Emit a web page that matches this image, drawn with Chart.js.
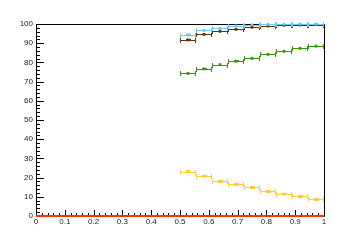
<!DOCTYPE html>
<html>
<head>
<meta charset="utf-8">
<script src="https://cdn.jsdelivr.net/npm/chart.js@4/dist/chart.umd.min.js"></script>
<style>
html, body { margin: 0; padding: 0; background: #fff; }
</style>
</head>
<body>
<canvas id="myChart" width="360" height="240"></canvas>
<script>
'use strict'

// bin edges of the histograms (0.5 .. 1.0, 9 bins)
let binEdges = [0.5, 0.5556, 0.6111, 0.6667, 0.7222, 0.7778, 0.8333, 0.8889, 0.9444, 1.0]

let yellowVals = [23.1, 20.8, 18.2, 16.5, 14.9, 12.8, 11.3, 10.2, 8.7]
let yellowErrs = [0.9, 0.6, 0.8, 0.9, 0.8, 0.8, 0.5, 0.7, 0.8]
let greenVals = [74.3, 76.6, 78.8, 80.6, 82.1, 84.2, 85.8, 87.3, 88.5]
let greenErrs = [0.4, 0.4, 0.4, 0.4, 0.3, 0.3, 0.3, 0.3, 0.3]
let brownVals = [91.7, 94.6, 96.2, 97.2, 98.3, 99.0, 99.3, 99.5, 99.7]
let brownErrs = [0.3, 0.3, 0.2, 0.2, 0.2, 0.1, 0.1, 0.1, 0.1]
let blueVals = [94.3, 96.7, 97.7, 99.0, 99.6, 99.8, 99.9, 100, 100]
let blueErrs = [0.3, 0.3, 0.2, 0.2, 0.1, 0.1, 0.1, 0.1, 0.1]
let redX = [0, 1]
let redVals = [0, 0]

let xTicks = [0, 0.1, 0.2, 0.3, 0.4, 0.5, 0.6, 0.7, 0.8, 0.9, 1]
let yTicks = [0, 10, 20, 30, 40, 50, 60, 70, 80, 90, 100]

let series = [
    { vals: yellowVals, errs: yellowErrs, color: '#ffcc33' },
    { vals: greenVals, errs: greenErrs, color: '#339900' },
    { vals: brownVals, errs: brownErrs, color: '#663300' },
    { vals: blueVals, errs: blueErrs, color: '#66ccff' }
]

function crisp(v) {
    return Math.round(v) + 0.5
}

function binPoints(vals) {
    return vals.map((v, i) => ({ x: (binEdges[i] + binEdges[i + 1]) / 2, y: v }))
}

// frame, ROOT style inside ticks, and the error bars
const rootFrame = {
    id: 'rootFrame',
    beforeDatasetsDraw(chart) {
        let ctx = chart.ctx
        let xs = chart.scales.x
        let ys = chart.scales.y
        let a = chart.chartArea
        ctx.save()
        ctx.strokeStyle = '#000'
        ctx.lineWidth = 1
        ctx.beginPath()
        ctx.rect(crisp(a.left), crisp(a.top), Math.round(a.right - a.left), Math.round(a.bottom - a.top))
        // y ticks
        for (let i = 0; i < yTicks.length; i++) {
            let py = crisp(ys.getPixelForValue(yTicks[i]))
            ctx.moveTo(a.left, py)
            ctx.lineTo(a.left + 8, py)
            if (i < yTicks.length - 1) {
                let step = (yTicks[i + 1] - yTicks[i]) / 5
                for (let k = 1; k < 5; k++) {
                    let my = crisp(ys.getPixelForValue(yTicks[i] + k * step))
                    ctx.moveTo(a.left, my)
                    ctx.lineTo(a.left + 4, my)
                }
            }
        }
        // x ticks
        for (let i = 0; i < xTicks.length; i++) {
            let px = crisp(xs.getPixelForValue(xTicks[i]))
            ctx.moveTo(px, a.bottom)
            ctx.lineTo(px, a.bottom - 6)
            if (i < xTicks.length - 1) {
                let step = (xTicks[i + 1] - xTicks[i]) / 5
                for (let k = 1; k < 5; k++) {
                    let mx = crisp(xs.getPixelForValue(xTicks[i] + k * step))
                    ctx.moveTo(mx, a.bottom)
                    ctx.lineTo(mx, a.bottom - 3)
                }
            }
        }
        ctx.stroke()

        // error bars
        series.forEach(s => {
            ctx.strokeStyle = s.color
            ctx.lineWidth = 1
            ctx.beginPath()
            s.vals.forEach((v, i) => {
                let x0 = Math.round(xs.getPixelForValue(binEdges[i]))
                let x1 = Math.round(xs.getPixelForValue(binEdges[i + 1]))
                let xc = crisp(xs.getPixelForValue((binEdges[i] + binEdges[i + 1]) / 2))
                let y = crisp(ys.getPixelForValue(v))
                let yHi = Math.round(ys.getPixelForValue(v + s.errs[i]))
                let yLo = Math.round(ys.getPixelForValue(v - s.errs[i]))
                ctx.moveTo(x0, y)
                ctx.lineTo(x1, y)
                ctx.moveTo(x0 + 0.5, y - 2.5)
                ctx.lineTo(x0 + 0.5, y + 2.5)
                ctx.moveTo(x1 - 0.5, y - 2.5)
                ctx.lineTo(x1 - 0.5, y + 2.5)
                if (yLo - yHi >= 2) {
                    ctx.moveTo(xc, yHi)
                    ctx.lineTo(xc, yLo)
                    ctx.moveTo(xc - 2.5, yHi + 0.5)
                    ctx.lineTo(xc + 2.5, yHi + 0.5)
                    ctx.moveTo(xc - 2.5, yLo - 0.5)
                    ctx.lineTo(xc + 2.5, yLo - 0.5)
                }
            })
            ctx.stroke()
        })
        ctx.restore()
    }
}

let datasets = [{
    type: 'line',
    data: redX.map((x, i) => ({ x: x, y: redVals[i] })),
    borderColor: '#ff3300',
    borderWidth: 2,
    pointRadius: 0,
    showLine: true,
    clip: false
}]
series.slice().reverse().forEach(s => {
    datasets.push({
        data: binPoints(s.vals),
        backgroundColor: s.color,
        borderColor: s.color,
        pointStyle: 'rect',
        pointRadius: 2,
        pointBorderWidth: 0,
        showLine: false,
        clip: false
    })
})

let ctx = document.getElementById('myChart')
const myChart = new Chart(ctx, {
    type: 'scatter',
    data: { datasets: datasets },
    plugins: [rootFrame],
    options: {
        responsive: false,
        animation: false,
        layout: { padding: { top: 24, right: 36, left: 0, bottom: 0 } },
        plugins: { legend: { display: false }, tooltip: { enabled: false } },
        scales: {
            x: {
                type: 'linear', min: 0, max: 1,
                grid: { display: false, drawTicks: false }, border: { display: false },
                afterFit: s => { s.height = 24 },
                afterBuildTicks: s => { s.ticks = xTicks.map(v => ({ value: v })) },
                ticks: {
                    padding: 1, maxRotation: 0, autoSkip: false,
                    color: '#222', font: { family: 'Liberation Sans', size: 8 },
                    callback: v => String(Math.round(v * 10) / 10)
                }
            },
            y: {
                type: 'linear', min: 0, max: 100,
                grid: { display: false, drawTicks: false }, border: { display: false },
                afterFit: s => { s.width = 36 },
                afterBuildTicks: s => { s.ticks = yTicks.map(v => ({ value: v })) },
                ticks: {
                    padding: 3, autoSkip: false,
                    color: '#222', font: { family: 'Liberation Sans', size: 8 }
                }
            }
        }
    }
})
</script>
</body>
</html>
